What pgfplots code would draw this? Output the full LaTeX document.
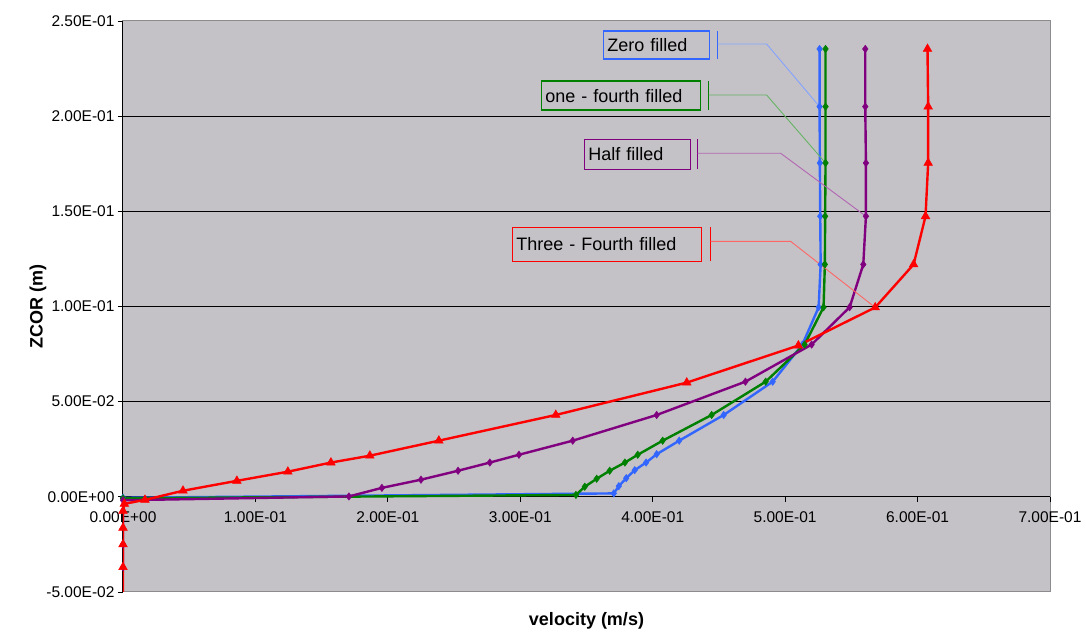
\documentclass[border=0pt]{standalone}
\usepackage{fontspec}
\setmainfont{Liberation Sans}
\usepackage{pgfplots}
\pgfplotsset{compat=1.18}
\definecolor{bg}{RGB}{196,194,198}
\definecolor{blueC}{RGB}{51,102,255}
\definecolor{greenC}{RGB}{0,128,0}
\definecolor{purpleC}{RGB}{128,0,128}
\definecolor{redC}{RGB}{255,0,0}
\newcommand{\tfont}{\fontsize{15.5}{18}\selectfont}
\newcommand{\afont}{\fontsize{18}{21}\selectfont}
\begin{document}
\begin{tikzpicture}
\begin{axis}[
  name=ax, at={(0,0)}, anchor=south west,
  scale only axis, width=927pt, height=571pt,
  xmin=0, xmax=0.7, ymin=-0.05, ymax=0.25,
  axis x line*=middle, axis y line*=left,
  axis line style={black, line width=1pt},
  axis background/.style={fill=bg, draw=gray!90, line width=1pt},
  hide obscured x ticks=false, hide obscured y ticks=false,
  xtick={0,0.1,0.2,0.3,0.4,0.5,0.6,0.7},
  xticklabels={0.00E+00,1.00E-01,2.00E-01,3.00E-01,4.00E-01,5.00E-01,6.00E-01,7.00E-01},
  ytick={-0.05,0,0.05,0.1,0.15,0.2,0.25},
  yticklabels={-5.00E-02,0.00E+00,5.00E-02,1.00E-01,1.50E-01,2.00E-01,2.50E-01},
  extra y ticks={0.05,0.1,0.15,0.2},
  extra y tick labels={},
  extra y tick style={ymajorgrids=true},
  major grid style={black, line width=1pt},
  tick align=outside, major tick length=5pt,
  tick style={black, line width=0.8pt},
  tick label style={font=\tfont},
  xticklabel style={yshift=-6pt},
  clip=true,
]
\addplot[blueC, line width=2.4pt, mark=diamond*, mark size=3.7pt, mark options={fill=blueC, draw=blueC, line width=0.5pt}] table {
0.5260 0.2353
0.5260 0.2050
0.5262 0.1754
0.5265 0.1474
0.5268 0.1221
0.5253 0.0996
0.5130 0.0800
0.4906 0.0605
0.4536 0.0430
0.4200 0.0295
0.4030 0.0224
0.3950 0.0180
0.3864 0.0140
0.3800 0.0098
0.3744 0.0056
0.3706 0.0018
0.0000 -0.0005
};
\addplot[greenC, line width=2.4pt, mark=diamond*, mark size=3.7pt, mark options={fill=greenC, draw=greenC, line width=0.5pt}] table {
0.5305 0.2353
0.5305 0.2050
0.5305 0.1754
0.5302 0.1474
0.5300 0.1221
0.5290 0.0996
0.5147 0.0800
0.4853 0.0605
0.4445 0.0430
0.4075 0.0295
0.3887 0.0221
0.3790 0.0180
0.3675 0.0137
0.3577 0.0095
0.3487 0.0053
0.3420 0.0010
0.0000 -0.0008
};
\addplot[purpleC, line width=2.4pt, mark=diamond*, mark size=3.7pt, mark options={fill=purpleC, draw=purpleC, line width=0.5pt}] table {
0.5605 0.2353
0.5605 0.2050
0.5610 0.1754
0.5610 0.1474
0.5590 0.1221
0.5487 0.0996
0.5200 0.0800
0.4700 0.0605
0.4030 0.0430
0.3396 0.0295
0.2990 0.0221
0.2770 0.0180
0.2530 0.0137
0.2250 0.0090
0.1955 0.0047
0.1706 0.0002
0.0000 -0.0018
0.0000 -0.0250
0.0000 -0.0370
};
\addplot[redC, line width=2.4pt, mark=triangle*, mark size=5pt, mark options={fill=redC, draw=redC, line width=0.5pt}] table {
0.6075 0.2353
0.6080 0.2050
0.6080 0.1754
0.6060 0.1474
0.5970 0.1221
0.5680 0.0995
0.5100 0.0795
0.4257 0.0600
0.3268 0.0430
0.2385 0.0295
0.1864 0.0216
0.1570 0.0180
0.1245 0.0132
0.0860 0.0084
0.0453 0.0032
0.0166 -0.0016
0.0010 -0.0037
0.0000 -0.0074
0.0000 -0.0163
0.0000 -0.0250
0.0000 -0.0370
0.0000 -0.0600
};
% annotations
\node[draw=blueC, line width=1.2pt, anchor=west, inner xsep=4pt, inner ysep=0pt, text width=98pt, minimum height=28pt, align=left, font=\afont] at (axis cs:0.3623,0.23735) {Zero filled};
\draw[blueC, line width=1.2pt] (axis cs:0.449,0.2300) -- (axis cs:0.449,0.2447);
\draw[blueC!60, line width=0.9pt] (axis cs:0.449,0.2379) -- (axis cs:0.486,0.2379) -- (axis cs:0.526,0.205);

\node[draw=greenC, line width=1.2pt, anchor=west, inner xsep=4pt, inner ysep=0pt, text width=151pt, minimum height=29pt, align=left, font=\afont] at (axis cs:0.3155,0.2108) {one - fourth filled};
\draw[greenC, line width=1.2pt] (axis cs:0.4423,0.2032) -- (axis cs:0.4423,0.2184);
\draw[greenC!60, line width=0.9pt] (axis cs:0.4423,0.2111) -- (axis cs:0.486,0.2111) -- (axis cs:0.5305,0.1754);

\node[draw=purpleC, line width=1.2pt, anchor=west, inner xsep=4pt, inner ysep=0pt, text width=98pt, minimum height=30pt, align=left, font=\afont] at (axis cs:0.3479,0.1800) {Half filled};
\draw[purpleC, line width=1.2pt] (axis cs:0.434,0.1721) -- (axis cs:0.434,0.1879);
\draw[purpleC!60, line width=0.9pt] (axis cs:0.434,0.1805) -- (axis cs:0.4966,0.1805) -- (axis cs:0.561,0.1474);

\node[draw=redC, line width=1.2pt, anchor=west, inner xsep=4pt, inner ysep=0pt, text width=181pt, minimum height=34pt, align=left, font=\afont] at (axis cs:0.2936,0.13265) {Three - Fourth filled};
\draw[redC, line width=1.2pt] (axis cs:0.4438,0.1237) -- (axis cs:0.4438,0.1416);
\draw[redC!60, line width=0.9pt] (axis cs:0.4438,0.1342) -- (axis cs:0.5042,0.1342) -- (axis cs:0.568,0.0995);
\end{axis}
\node[rotate=90, font=\bfseries\afont] at ([xshift=-85pt]ax.west) {ZCOR (m)};
\node[font=\bfseries\afont] at ([yshift=-29pt]ax.south) {velocity (m/s)};
\pgfresetboundingbox
\path[use as bounding box] ([xshift=-123pt,yshift=-40pt]ax.south west) rectangle ([xshift=36pt,yshift=21pt]ax.north east);
\end{tikzpicture}
\end{document}
